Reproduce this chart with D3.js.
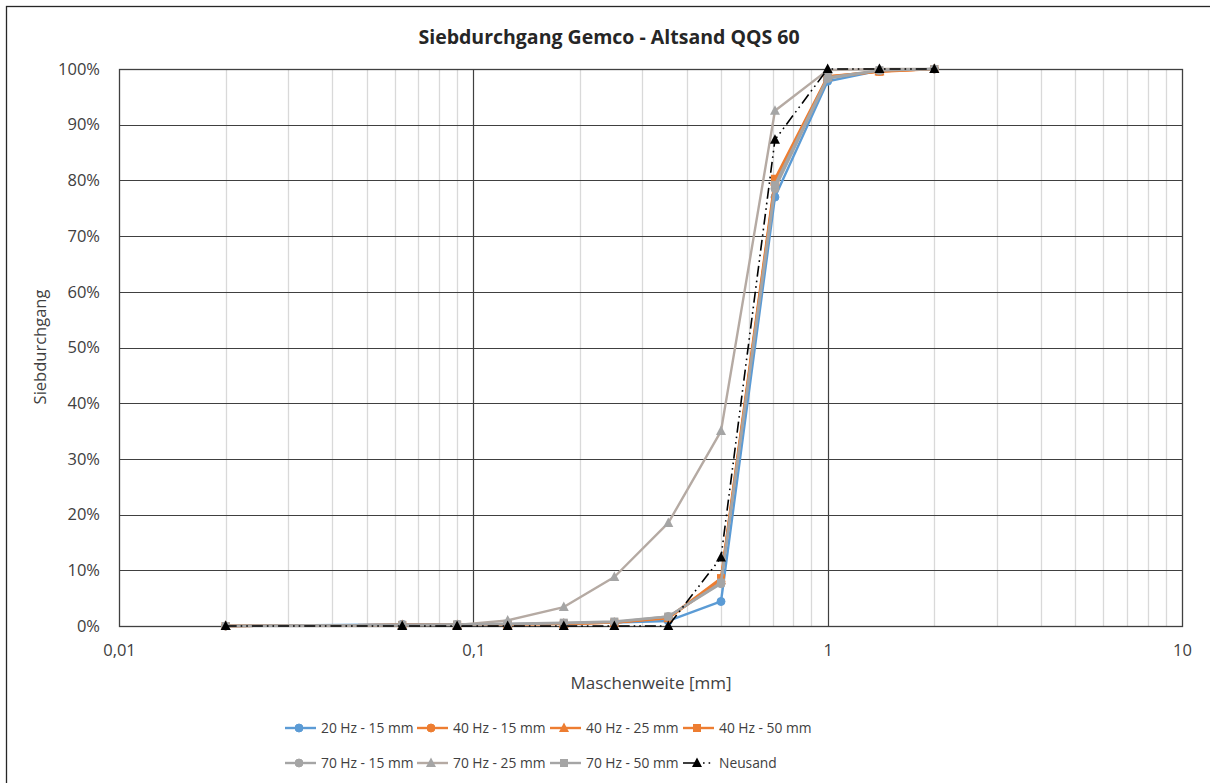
<!DOCTYPE html>
<html><head><meta charset="utf-8">
<script src="https://cdn.jsdelivr.net/npm/d3@7"></script>
<style>body{margin:0;background:#fff}svg{display:block}text{font-family:"Open Sans",sans-serif;fill:#404040}</style>
</head><body><svg id="c" width="1210" height="783"></svg>
<script>
const sieves = [0.02, 0.063, 0.09, 0.125, 0.18, 0.25, 0.355, 0.5, 0.71, 1, 1.4, 2];
const seriesNames = ["20 Hz - 15 mm","40 Hz - 15 mm","40 Hz - 25 mm","40 Hz - 50 mm","70 Hz - 15 mm","70 Hz - 25 mm","70 Hz - 50 mm","Neusand"];
const v20_15 = [0, 0.3, 0.3, 0.3, 0.5, 0.6, 0.9, 4.4, 77.0, 97.8, 99.7, 100];
const v40_15 = [0, 0.2, 0.2, 0.3, 0.4, 0.6, 1.5, 8.0, 79.5, 98.5, 99.6, 100];
const v40_25 = [0, 0.2, 0.2, 0.3, 0.4, 0.6, 1.4, 8.2, 79.8, 98.6, 99.6, 100];
const v40_50 = [0, 0.2, 0.2, 0.3, 0.4, 0.6, 1.5, 8.6, 80.3, 98.7, 99.5, 100];
const v70_15 = [0, 0.2, 0.2, 0.3, 0.5, 0.7, 1.7, 7.6, 78.5, 98.3, 99.7, 100];
const v70_25 = [0, 0.1, 0.2, 1.0, 3.4, 8.8, 18.5, 35.0, 92.5, 99.8, 100, 100];
const v70_50 = [0, 0.2, 0.3, 0.4, 0.6, 0.8, 1.7, 7.8, 79.2, 98.5, 99.8, 100];
const vNeu   = [0, 0, 0, 0, 0, 0, 0, 12.3, 87.3, 100, 100, 100];
const seriesValues = [v20_15, v40_15, v40_25, v40_50, v70_15, v70_25, v70_50, vNeu];
const xTicks = [0.01, 0.1, 1, 10];
const yTicks = [0,10,20,30,40,50,60,70,80,90,100];

const styles = [
  {color:"#5B9BD5", marker:"circle"},
  {color:"#ED7D31", marker:"circle"},
  {color:"#ED7D31", marker:"triangle"},
  {color:"#ED7D31", marker:"square"},
  {color:"#A5A5A5", marker:"circle"},
  {color:"#B5AAA3", mcolor:"#A5A5A5", marker:"triangle"},
  {color:"#A5A5A5", marker:"square"},
  {color:"#000000", marker:"triangle", dash:"11,4,1.6,4,1.6,4", width:1.6}
];

const svg = d3.select("#c");
const L=119, R=1182, T=69, B=626;
const x = d3.scaleLog().domain([0.01,10]).range([L,R]);
const y = d3.scaleLinear().domain([0,100]).range([B,T]);

svg.append("rect").attr("x",6.5).attr("y",6.5).attr("width",1220).attr("height",800)
  .attr("fill","none").attr("stroke","#262626").attr("stroke-width",1.3);

const minor = [];
[0.01,0.1,1].forEach(d=>{for(let k=2;k<=9;k++) minor.push(d*k);});
svg.append("g").selectAll("line").data(minor).join("line")
  .attr("x1",d=>Math.round(x(d))+0.5).attr("x2",d=>Math.round(x(d))+0.5)
  .attr("y1",T).attr("y2",B).attr("stroke","#D9D9D9").attr("stroke-width",1.3);
svg.append("g").selectAll("line").data(xTicks.slice(1,3)).join("line")
  .attr("x1",d=>Math.round(x(d))+0.5).attr("x2",d=>Math.round(x(d))+0.5)
  .attr("y1",T).attr("y2",B).attr("stroke","#404040").attr("stroke-width",1.2);
svg.append("g").selectAll("line").data(yTicks).join("line")
  .attr("x1",L).attr("x2",R).attr("y1",d=>Math.round(y(d))+0.5).attr("y2",d=>Math.round(y(d))+0.5)
  .attr("stroke","#404040").attr("stroke-width",1.2);
svg.append("rect").attr("x",L+0.5).attr("y",T+0.5).attr("width",R-L).attr("height",B-T)
  .attr("fill","none").attr("stroke","#404040").attr("stroke-width",1.3);

const fmtX = d=>String(d).replace(".",",");
const gx = svg.append("g").attr("transform",`translate(0,${B})`)
  .call(d3.axisBottom(x).tickValues(xTicks).tickFormat(fmtX).tickSize(0).tickPadding(18));
const gy = svg.append("g").attr("transform",`translate(${L},0)`)
  .call(d3.axisLeft(y).tickValues(yTicks).tickFormat(d=>d+"%").tickSize(0).tickPadding(19));
[gx,gy].forEach(g=>{g.select(".domain").remove();
  g.selectAll("text").attr("fill","#404040").style("font-family",'"Open Sans",sans-serif').style("font-size","16.5px");});

svg.append("text").attr("x",609).attr("y",44).attr("text-anchor","middle")
  .style("font-size","19.5px").style("font-weight","bold").style("fill","#262626")
  .text("Siebdurchgang Gemco - Altsand QQS 60");
svg.append("text").attr("x",651).attr("y",689).attr("text-anchor","middle")
  .style("font-size","17px").text("Maschenweite [mm]");
svg.append("text").attr("transform","translate(46,347) rotate(-90)").attr("text-anchor","middle")
  .style("font-size","16.5px").text("Siebdurchgang");

function marker(g, type, cx, cy, color){
  if(type==="circle") g.append("circle").attr("cx",cx).attr("cy",cy).attr("r",4).attr("fill",color).attr("stroke",color);
  else if(type==="square") g.append("rect").attr("x",cx-4).attr("y",cy-4).attr("width",8).attr("height",8).attr("fill",color);
  else g.append("path").attr("d",`M${cx},${cy-5.5}L${cx+5},${cy+4}L${cx-5},${cy+4}Z`).attr("fill",color);
}

const line = d3.line().x(d=>x(d[0])).y(d=>y(d[1]));
const plot = svg.append("g");
seriesValues.forEach((vals,i)=>{
  const st = styles[i];
  const pts = sieves.map((s,j)=>[s,vals[j]]);
  const g = plot.append("g");
  g.append("path").attr("d",line(pts)).attr("fill","none").attr("stroke",st.color)
    .attr("stroke-width",st.width||2.4).attr("stroke-dasharray",st.dash||null).attr("stroke-linejoin","round");
  pts.forEach(p=>marker(g, st.marker, x(p[0]), y(p[1]), st.mcolor||st.color));
});

const legX = [321,453,586,719], legY=[728,763];
seriesNames.forEach((n,i)=>{
  const st=styles[i];
  const tx=legX[i%4], ty=legY[Math.floor(i/4)];
  const g=svg.append("g");
  g.append("line").attr("x1",tx-36).attr("x2",tx-5).attr("y1",ty).attr("y2",ty)
    .attr("stroke",st.color).attr("stroke-width",st.width||2.4).attr("stroke-dasharray",st.dash?"16,4,1.6,4,1.6,4":null);
  marker(g, st.marker, tx-22, ty, st.mcolor||st.color);
  g.append("text").attr("x",tx).attr("y",ty+5).style("font-size","13.8px").text(n);
});
</script></body></html>
